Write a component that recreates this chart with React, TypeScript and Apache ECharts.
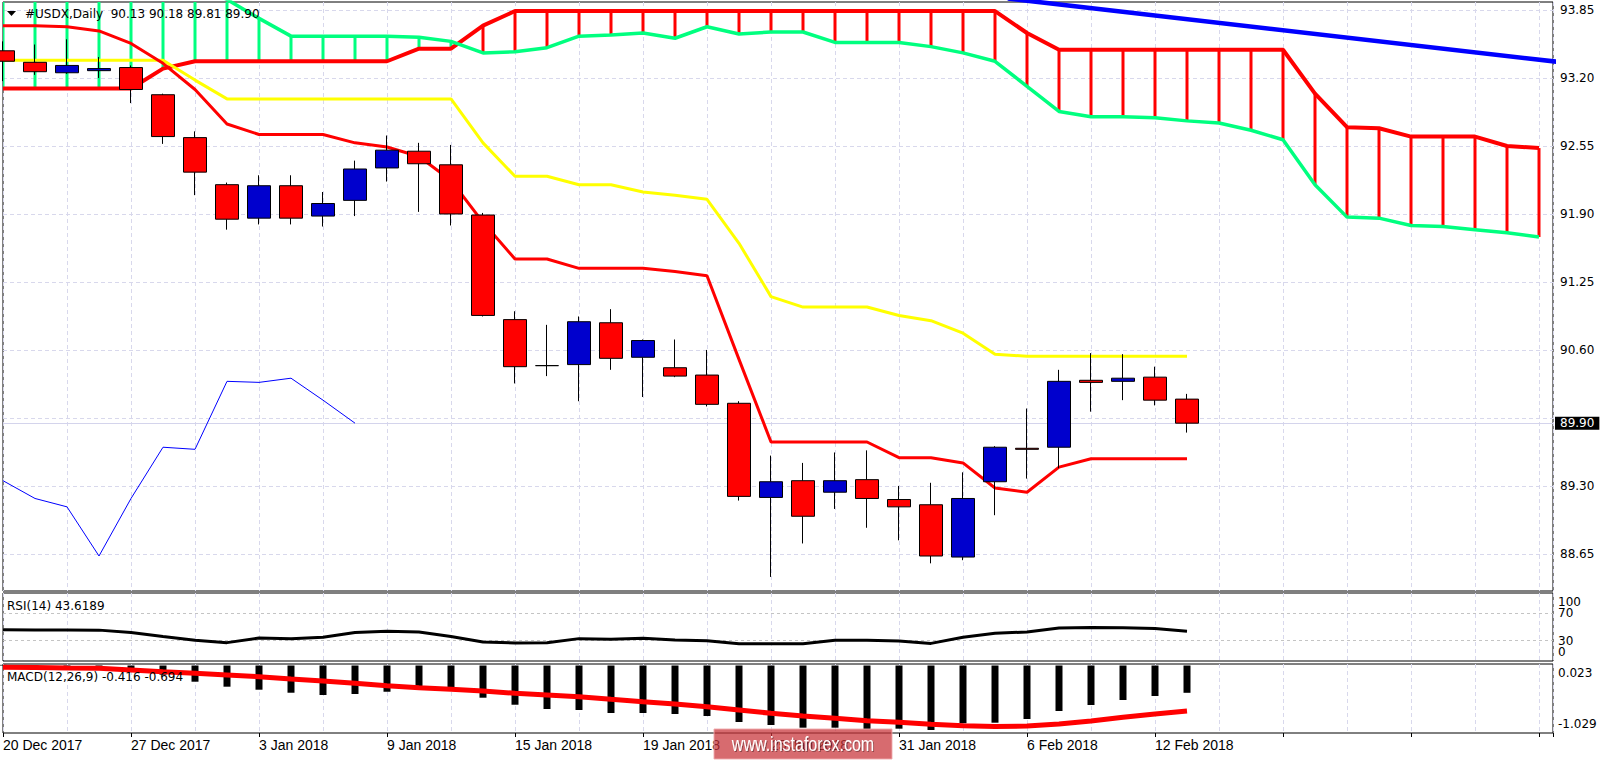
import React, { useEffect, useRef } from 'react';
import * as echarts from 'echarts';

// ---------- data ----------
const barDates = [
  '20 Dec 2017', '21 Dec 2017', '22 Dec 2017', '26 Dec 2017', '27 Dec 2017', '28 Dec 2017', '29 Dec 2017',
  '2 Jan 2018', '3 Jan 2018', '4 Jan 2018', '5 Jan 2018', '8 Jan 2018', '9 Jan 2018', '10 Jan 2018',
  '11 Jan 2018', '12 Jan 2018', '15 Jan 2018', '16 Jan 2018', '17 Jan 2018', '18 Jan 2018', '19 Jan 2018',
  '22 Jan 2018', '23 Jan 2018', '24 Jan 2018', '25 Jan 2018', '26 Jan 2018', '29 Jan 2018', '30 Jan 2018',
  '31 Jan 2018', '1 Feb 2018', '2 Feb 2018', '5 Feb 2018', '6 Feb 2018', '7 Feb 2018', '8 Feb 2018',
  '9 Feb 2018', '12 Feb 2018', '13 Feb 2018',
];

const opens = [93.46, 93.35, 93.25, 93.27, 93.30, 93.04, 92.63, 92.18, 91.86, 92.17, 91.88, 92.03, 92.34, 92.50, 92.37, 91.89, 90.89, 90.45, 90.46, 90.86, 90.53, 90.43, 90.36, 90.09, 89.19, 89.35, 89.24, 89.36, 89.17, 89.12, 88.62, 89.34, 89.66, 89.67, 90.31, 90.30, 90.34, 90.13];
const highs = [93.55, 93.52, 93.57, 93.40, 93.32, 93.05, 92.69, 92.20, 92.27, 92.27, 92.11, 92.41, 92.65, 92.58, 92.56, 91.91, 90.97, 90.84, 90.92, 90.99, 90.70, 90.70, 90.60, 90.11, 89.59, 89.52, 89.62, 89.64, 89.30, 89.33, 89.43, 89.68, 90.04, 90.41, 90.57, 90.56, 90.44, 90.18];
const lows = [93.17, 93.23, 93.24, 93.20, 92.96, 92.57, 92.08, 91.75, 91.80, 91.80, 91.78, 91.88, 92.21, 91.92, 91.79, 90.92, 90.28, 90.35, 90.11, 90.41, 90.15, 90.34, 90.06, 89.16, 88.43, 88.75, 89.08, 88.90, 88.78, 88.56, 88.59, 89.02, 89.37, 89.47, 90.01, 90.12, 90.07, 89.81];
const closes = [93.36, 93.26, 93.32, 93.29, 93.09, 92.64, 92.30, 91.85, 92.17, 91.86, 92.00, 92.33, 92.51, 92.38, 91.90, 90.93, 90.44, 90.45, 90.87, 90.52, 90.69, 90.35, 90.08, 89.20, 89.34, 89.01, 89.35, 89.18, 89.10, 88.63, 89.18, 89.67, 89.65, 90.30, 90.29, 90.33, 90.12, 89.90];

const tenkan = [93.70, 93.70, 93.69, 93.65, 93.53, 93.34, 93.09, 92.76, 92.66, 92.66, 92.66, 92.58, 92.54, 92.45, 92.22, 91.82, 91.47, 91.47, 91.38, 91.38, 91.38, 91.35, 91.31, 90.51, 89.72, 89.72, 89.72, 89.72, 89.57, 89.57, 89.52, 89.28, 89.24, 89.48, 89.56, 89.56, 89.56, 89.56];
const kijun = [93.37, 93.37, 93.37, 93.37, 93.37, 93.37, 93.18, 93.00, 93.00, 93.00, 93.00, 93.00, 93.00, 93.00, 93.00, 92.58, 92.26, 92.26, 92.18, 92.18, 92.11, 92.08, 92.04, 91.62, 91.11, 91.01, 91.01, 91.01, 90.93, 90.88, 90.76, 90.56, 90.54, 90.54, 90.54, 90.54, 90.54, 90.54];

const spanRed = [93.10, 93.10, 93.10, 93.10, 93.10, 93.29, 93.36, 93.36, 93.36, 93.36, 93.36, 93.36, 93.36, 93.48, 93.48, 93.70, 93.84, 93.84, 93.84, 93.84, 93.84, 93.84, 93.84, 93.84, 93.84, 93.84, 93.84, 93.84, 93.84, 93.84, 93.84, 93.84, 93.63, 93.47, 93.47, 93.47, 93.47, 93.47, 93.47, 93.47, 93.47, 93.05, 92.73, 92.72, 92.64, 92.64, 92.64, 92.55, 92.53];
const spanGreen = [94.12, 94.12, 94.12, 94.12, 94.12, 94.12, 94.12, 93.95, 93.77, 93.60, 93.60, 93.60, 93.60, 93.59, 93.55, 93.44, 93.45, 93.49, 93.60, 93.61, 93.63, 93.58, 93.69, 93.62, 93.64, 93.64, 93.54, 93.54, 93.54, 93.50, 93.44, 93.36, 93.12, 92.88, 92.83, 92.83, 92.82, 92.79, 92.77, 92.70, 92.61, 92.18, 91.87, 91.86, 91.79, 91.78, 91.75, 91.72, 91.68];

const trendLine = [[31.4, 93.96], [49, 93.34]];

const rsi = [45.8, 45.6, 45.7, 45.4, 41.8, 35.9, 30.4, 27.0, 33.8, 32.9, 34.8, 41.8, 43.7, 42.7, 35.9, 27.9, 26.5, 27.0, 32.9, 31.9, 33.3, 30.8, 29.9, 25.5, 25.5, 25.5, 30.4, 30.4, 29.3, 25.9, 34.8, 40.7, 42.7, 48.6, 49.2, 49.0, 47.7, 43.6];
const macdMain = [0.01, -0.01, -0.03, -0.05, -0.07, -0.14, -0.247, -0.323, -0.369, -0.415, -0.45, -0.434, -0.40, -0.32, -0.351, -0.491, -0.598, -0.663, -0.678, -0.724, -0.724, -0.739, -0.77, -0.861, -0.907, -0.948, -0.948, -0.968, -0.963, -0.983, -0.881, -0.872, -0.816, -0.694, -0.602, -0.526, -0.465, -0.416];
const macdSignal = [-0.027, -0.032, -0.038, -0.043, -0.069, -0.095, -0.119, -0.145, -0.171, -0.206, -0.236, -0.271, -0.308, -0.338, -0.363, -0.389, -0.424, -0.45, -0.476, -0.515, -0.552, -0.587, -0.628, -0.678, -0.729, -0.77, -0.805, -0.841, -0.866, -0.896, -0.918, -0.93, -0.922, -0.892, -0.846, -0.79, -0.739, -0.694];

const priceTicks = [93.85, 93.20, 92.55, 91.90, 91.25, 90.60, 89.95, 89.30, 88.65];
const lastPrice = 89.90;
const rsiLevels = [70, 30];
const macdRange = [-1.029, 0.023];

// ---------- layout / style constants ----------
const X_MAX = 1550 / 32;
const PRICE_MAX = 93.9265;
const PRICE_MIN = 88.2955;
const GRID_COLOR = '#d8d8ec';
const AXIS_FONT = 'DejaVu Sans';
const DATE_FONT = 'Liberation Sans';

export default function App() {
  const ref = useRef<HTMLDivElement>(null);

  useEffect(() => {
    if (!ref.current) return;
    const chart = echarts.init(ref.current, null, { renderer: 'svg' });

    const splitX = {
      show: true,
      lineStyle: { color: GRID_COLOR, type: [4, 3], width: 1 },
    };
    const hiddenX = (gridIndex: number) => ({
      type: 'value',
      gridIndex,
      min: 0,
      max: X_MAX,
      interval: 2,
      axisLine: { show: false },
      axisTick: { show: false },
      axisLabel: { show: false },
      splitLine: splitX,
    });

    const lineBase = {
      type: 'line',
      showSymbol: false,
      symbol: 'none',
      silent: true,
      clip: true,
    };

    const option: any = {
      animation: false,
      backgroundColor: '#ffffff',
      textStyle: { fontFamily: AXIS_FONT },
      grid: [
        { left: 3, top: 2, width: 1550, height: 589, show: true, borderColor: '#000', borderWidth: 1, backgroundColor: 'transparent', containLabel: false, outerBoundsMode: 'none' },
        { left: 3, top: 593, width: 1550, height: 68, show: true, borderColor: '#000', borderWidth: 1, backgroundColor: 'transparent', containLabel: false, outerBoundsMode: 'none' },
        { left: 3, top: 664, width: 1550, height: 69, show: true, borderColor: '#000', borderWidth: 1, backgroundColor: 'transparent', containLabel: false, outerBoundsMode: 'none' },
      ],
      xAxis: [
        hiddenX(0),
        hiddenX(1),
        hiddenX(2),
        {
          type: 'value',
          gridIndex: 2,
          position: 'bottom',
          min: 0,
          max: X_MAX,
          interval: 4,
          axisLine: { show: false },
          axisTick: { show: true, length: 4, lineStyle: { color: '#000', width: 1 } },
          splitLine: { show: false },
          axisLabel: {
            show: true,
            showMinLabel: true,
            align: 'left',
            margin: 5,
            color: '#000',
            fontSize: 14,
            fontFamily: DATE_FONT,
            formatter: (v: number) => {
              const r = Math.round(v);
              if (Math.abs(v - r) > 1e-6 || r % 4 !== 0 || r > 36) return '';
              return barDates[r] || '';
            },
          },
        },
      ],
      yAxis: [
        {
          type: 'value', gridIndex: 0, position: 'right', min: PRICE_MIN, max: PRICE_MAX,
          axisLine: { show: false }, axisTick: { show: false }, axisLabel: { show: false }, splitLine: { show: false },
        },
        {
          type: 'value', gridIndex: 1, position: 'right', min: 0, max: 100, interval: 10,
          axisLine: { show: false }, axisTick: { show: false }, splitLine: { show: false },
          axisLabel: {
            show: true, showMinLabel: true, showMaxLabel: true, margin: 5, color: '#000', fontSize: 12,
            fontFamily: AXIS_FONT, lineHeight: 18,
            formatter: (v: number) => {
              const r = Math.round(v);
              if (r === 100) return '\n100';
              if (r === 70) return '70';
              if (r === 30) return '30';
              if (r === 0) return '0\n';
              return '';
            },
          },
        },
        {
          type: 'value', gridIndex: 2, position: 'right', min: macdRange[0], max: macdRange[1],
          interval: macdRange[1] - macdRange[0],
          axisLine: { show: false }, axisTick: { show: false }, splitLine: { show: false },
          axisLabel: {
            show: true, showMinLabel: true, showMaxLabel: true, margin: 5, color: '#000', fontSize: 12,
            fontFamily: AXIS_FONT, lineHeight: 18,
            formatter: (v: number) => {
              if (v > 0.01) return '\n' + v.toFixed(3);
              if (v < -1) return v.toFixed(3) + '\n';
              return '0.00';
            },
          },
        },
      ],
      series: [
        // cloud hatch
        {
          type: 'custom',
          xAxisIndex: 0,
          yAxisIndex: 0,
          clip: true,
          silent: true,
          z: 2,
          data: spanRed.map((r, i) => [i, r, spanGreen[i]]),
          encode: { x: 0, y: [1, 2] },
          renderItem: (params: any, api: any) => {
            const x = api.value(0);
            const a = api.value(1);
            const b = api.value(2);
            const p1 = api.coord([x, a]);
            const p2 = api.coord([x, b]);
            return {
              type: 'line',
              shape: { x1: p1[0], y1: p1[1], x2: p2[0], y2: p2[1] },
              style: { stroke: a >= b ? '#ff0000' : '#00ff7f', lineWidth: 3 },
            };
          },
        },
        // senkou red (hosts price grid lines)
        {
          ...lineBase,
          name: 'SpanRed',
          xAxisIndex: 0,
          yAxisIndex: 0,
          z: 3,
          data: spanRed.map((v, i) => [i, v]),
          lineStyle: { color: '#ff0000', width: 4 },
          markLine: {
            z: 1,
            silent: true,
            symbol: ['none', 'none'],
            lineStyle: { color: GRID_COLOR, type: [4, 3], width: 1 },
            label: {
              show: true,
              position: 'end',
              distance: 7,
              color: '#000',
              fontSize: 12,
              fontFamily: AXIS_FONT,
              formatter: (p: any) => Number(p.value).toFixed(2),
            },
            data: priceTicks.map((v) => ({
              yAxis: v,
              label: { show: Math.abs(v - lastPrice) > 0.1 },
            })),
          },
        },
        // senkou green (hosts last price line)
        {
          ...lineBase,
          name: 'SpanGreen',
          xAxisIndex: 0,
          yAxisIndex: 0,
          z: 3,
          data: spanGreen.map((v, i) => [i, v]),
          lineStyle: { color: '#00ff7f', width: 3.5 },
          markLine: {
            z: 2,
            silent: true,
            symbol: ['none', 'none'],
            lineStyle: { color: '#d4d4ec', type: 'solid', width: 1 },
            label: {
              show: true,
              position: 'end',
              distance: 2,
              color: '#fff',
              backgroundColor: '#000',
              padding: [1, 5, 0, 5],
              fontSize: 12,
              fontFamily: AXIS_FONT,
              formatter: (p: any) => Number(p.value).toFixed(2),
            },
            data: [{ yAxis: lastPrice }],
          },
        },
        {
          ...lineBase,
          name: 'Kijun',
          xAxisIndex: 0,
          yAxisIndex: 0,
          z: 4,
          data: kijun.map((v, i) => [i, v]),
          lineStyle: { color: '#ffff00', width: 3 },
        },
        {
          ...lineBase,
          name: 'Tenkan',
          xAxisIndex: 0,
          yAxisIndex: 0,
          z: 4,
          data: tenkan.map((v, i) => [i, v]),
          lineStyle: { color: '#ff0000', width: 3 },
        },
        {
          ...lineBase,
          name: 'Chikou',
          xAxisIndex: 0,
          yAxisIndex: 0,
          z: 4,
          data: closes.slice(26).map((v, i) => [i, v]),
          lineStyle: { color: '#0000ff', width: 1 },
        },
        {
          ...lineBase,
          name: 'Trend',
          xAxisIndex: 0,
          yAxisIndex: 0,
          z: 4,
          data: trendLine,
          lineStyle: { color: '#0000ff', width: 4.5 },
        },
        {
          type: 'candlestick',
          name: 'USDX',
          xAxisIndex: 0,
          yAxisIndex: 0,
          z: 6,
          clip: true,
          silent: true,
          barWidth: 24,
          data: opens.map((o, i) => [i, o, closes[i], lows[i], highs[i]]),
          itemStyle: {
            color: '#0000cd',
            color0: '#ff0000',
            borderColor: '#000000',
            borderColor0: '#000000',
            borderWidth: 1,
          },
        },
        // RSI
        {
          ...lineBase,
          name: 'RSI',
          xAxisIndex: 1,
          yAxisIndex: 1,
          z: 3,
          data: rsi.map((v, i) => [i, v]),
          lineStyle: { color: '#000000', width: 3 },
          markLine: {
            z: 1,
            silent: true,
            symbol: ['none', 'none'],
            lineStyle: { color: '#c4c4c4', type: [3, 3], width: 1 },
            label: { show: false },
            data: rsiLevels.map((v) => ({ yAxis: v })),
          },
        },
        // MACD
        {
          type: 'bar',
          name: 'MACD',
          xAxisIndex: 2,
          yAxisIndex: 2,
          z: 2,
          silent: true,
          barWidth: 7,
          data: macdMain.map((v, i) => [i, v]),
          itemStyle: { color: '#000000' },
        },
        {
          ...lineBase,
          name: 'Signal',
          xAxisIndex: 2,
          yAxisIndex: 2,
          z: 3,
          data: macdSignal.map((v, i) => [i, v]),
          lineStyle: { color: '#ff0000', width: 5 },
        },
      ],
      graphic: [
        {
          type: 'polygon',
          z: 50,
          shape: { points: [[7, 11], [16, 11], [11.5, 16]] },
          style: { fill: '#000' },
        },
        {
          type: 'text',
          z: 50,
          x: 25,
          y: 14,
          style: {
            text: '#USDX,Daily  90.13 90.18 89.81 89.90',
            fill: '#000',
            fontSize: 12,
            fontFamily: AXIS_FONT,
            verticalAlign: 'middle',
          },
        },
        {
          type: 'text',
          z: 50,
          x: 7,
          y: 606,
          style: {
            text: 'RSI(14) 43.6189',
            fill: '#000',
            fontSize: 12,
            fontFamily: AXIS_FONT,
            verticalAlign: 'middle',
          },
        },
        {
          type: 'text',
          z: 50,
          x: 7,
          y: 677,
          style: {
            text: 'MACD(12,26,9) -0.416 -0.694',
            fill: '#000',
            fontSize: 12,
            fontFamily: AXIS_FONT,
            verticalAlign: 'middle',
          },
        },
        {
          type: 'group',
          z: 100,
          children: [
            {
              type: 'rect',
              z: 100,
              shape: { x: 714, y: 729, width: 178, height: 30 },
              style: { fill: 'rgba(200,50,56,0.72)', stroke: 'rgba(240,170,172,0.9)', lineWidth: 1 },
            },
            {
              type: 'text',
              z: 101,
              x: 803,
              y: 744,
              scaleX: 0.8,
              style: {
                text: 'www.instaforex.com',
                fill: '#ffffff',
                fontSize: 20,
                fontFamily: DATE_FONT,
                align: 'center',
                verticalAlign: 'middle',
                textShadowColor: 'rgba(0,0,0,0.35)',
                textShadowBlur: 1,
                textShadowOffsetX: 1,
                textShadowOffsetY: 1,
              },
            },
          ],
        },
      ],
    };

    chart.setOption(option);
    return () => chart.dispose();
  }, []);

  return (
    <div
      ref={ref}
      style={{ position: 'fixed', left: 0, top: 0, width: 1605, height: 760, background: '#fff' }}
    />
  );
}
